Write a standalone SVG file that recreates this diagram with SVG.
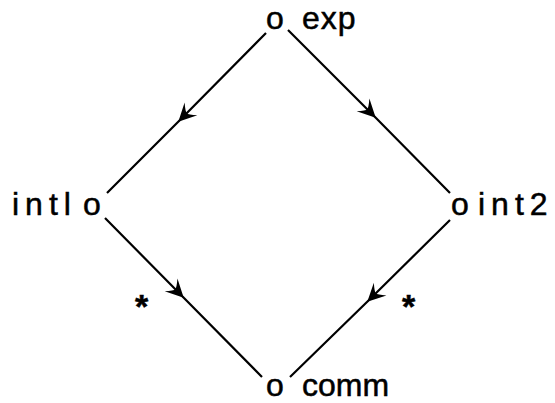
<svg xmlns="http://www.w3.org/2000/svg" width="555" height="403" viewBox="0 0 555 403">
<style>
text{font-family:"Liberation Sans",Arial,sans-serif;font-size:32px;fill:#000;stroke:#000;stroke-width:0.5}
.ast{font-size:34px;font-weight:bold}
.c{stroke:#000;stroke-width:2.2;fill:none;marker-mid:url(#ah)}
</style>
<defs>
<marker id="ah" markerUnits="userSpaceOnUse" orient="auto" markerWidth="30" markerHeight="30" viewBox="-20 -10 30 20" refX="0" refY="0" overflow="visible">
<path d="M1,0 L-17,-9 Q-11,-2 -11,0 Q-11,2 -17,9 Z" fill="#000"/>
</marker>
</defs>
<rect width="555" height="403" fill="#fff"/>
<g id="exp"><text x="266" y="29">o</text><text x="302" y="29" style="letter-spacing:1px">exp</text></g>
<g id="int1"><text x="12" y="215" style="letter-spacing:6px">intl</text><text x="83" y="215">o</text></g>
<g id="int2"><text x="451" y="215">o</text><text x="478" y="215" style="letter-spacing:6px">int2</text></g>
<g id="comm"><text x="266" y="396">o</text><text x="302" y="396">comm</text></g>
<g id="connectors">
<path class="c" d="M266,33 L179,121 L107,193"/>
<path class="c" d="M288,30 L375,117 L450,193"/>
<path class="c" d="M105,218 L183,297 L262,377"/>
<path class="c" d="M450,220 L368,301 L290,377"/>
<text class="ast" x="135" y="318">*</text>
<text class="ast" x="402" y="318">*</text>
</g>
</svg>
